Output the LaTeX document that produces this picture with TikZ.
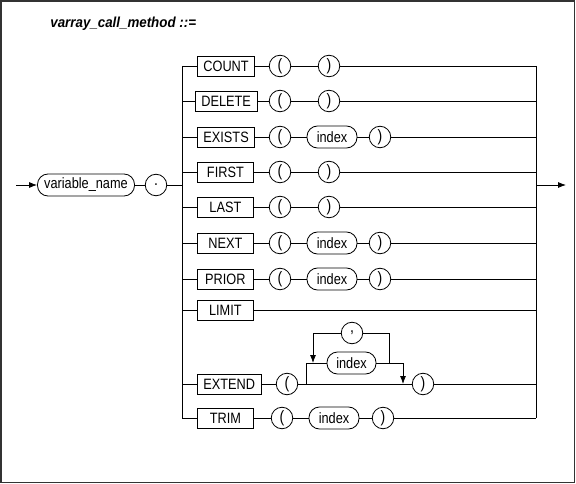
\documentclass[tikz,border=0pt]{standalone}
\usepackage{fontspec}
\setmainfont{Liberation Sans}
\newfontfamily\kwfont[FakeStretch=0.85]{Liberation Sans}
\newfontfamily\ttlfont[FakeStretch=0.92]{Liberation Sans}
\usetikzlibrary{arrows.meta}
\begin{document}
\begin{tikzpicture}[x=1pt,y=-1pt,
  font=\kwfont\fontsize{15}{17}\selectfont,
  line width=0.8pt,
  kw/.style={draw, rectangle, minimum width=56pt, minimum height=20pt, inner xsep=6pt, inner ysep=0pt, anchor=west},
  term/.style={draw, circle, minimum size=21.5pt, inner sep=0pt, font=\kwfont\fontsize{16.5}{18}\selectfont},
  ntm/.style={draw, rounded corners=10.5pt, minimum height=22pt, minimum width=50pt, inner xsep=5pt, inner ysep=0pt},
  arr/.style={-{Latex[length=8pt,width=6pt]}},
  frame/.style={draw=black!80, line width=1.5pt}
]
\useasboundingbox (0,0) rectangle (576,484);
\path[frame] (1,1) rectangle (574.5,482.5);

\node[anchor=base west, inner sep=0pt, font=\ttlfont\fontsize{14.5}{16}\selectfont\bfseries\itshape] (title) at (50,28) {varray\_call\_method ::=};

% entry
\coordinate (in) at (16,185);
\node[ntm, minimum width=97pt] (vn) at (86,185) {variable\_name};
\node[term] (dot) at (156,185) {.};
\coordinate (lb) at (182,185);
\draw[arr] (in) -- (vn);
\draw (vn) -- (dot) -- (lb);

% buses
\coordinate (lbt) at (182,66);
\coordinate (lbb) at (182,418);
\coordinate (rbt) at (536,66);
\coordinate (rbb) at (536,418);
\draw (lbt) -- (lbb);
\draw (rbt) -- (rbb);
\coordinate (rb) at (536,185);
\coordinate (out) at (566,185);
\draw[arr] (rb) -- (out);

% rows without argument
\foreach \n/\t/\y/\x in {count/COUNT/66/197, delete/DELETE/101/195, first/FIRST/172/197, last/LAST/207/197} {
  \node[kw] (\n) at (\x,\y) {\t};
  \node[term] (\n l) at (280,\y) {(};
  \node[term] (\n r) at (329,\y) {)};
  \coordinate (\n a) at (182,\y);
  \coordinate (\n b) at (536,\y);
  \draw (\n a) -- (\n) -- (\n l) -- (\n r) -- (\n b);
}

% rows with index argument
\foreach \n/\t/\y/\p/\i/\q in {exists/EXISTS/137/280/332/380, next/NEXT/243/280/332/380, prior/PRIOR/279/280/332/380, trim/TRIM/418/282/334/383} {
  \node[kw] (\n) at (197,\y) {\t};
  \node[term] (\n l) at (\p,\y) {(};
  \node[ntm] (\n i) at (\i,\y) {index};
  \node[term] (\n r) at (\q,\y) {)};
  \coordinate (\n a) at (182,\y);
  \coordinate (\n b) at (536,\y);
  \draw (\n a) -- (\n) -- (\n l) -- (\n i) -- (\n r) -- (\n b);
}

% LIMIT
\node[kw] (limit) at (197,310) {LIMIT};
\coordinate (limita) at (182,310);
\coordinate (limitb) at (536,310);
\draw (limita) -- (limit) -- (limitb);

% EXTEND
\node[kw] (ext) at (197,384) {EXTEND};
\node[term] (extl) at (287,384) {(};
\node[term] (extr) at (423,384) {)};
\coordinate (exta) at (182,384);
\coordinate (extb) at (536,384);
\draw (exta) -- (ext) -- (extl) -- (extr) -- (extb);
\node[ntm, minimum width=49pt] (xi) at (351.5,363) {index};
\node[term] (xcm) at (352,333) {,};
\coordinate (xa) at (306,384);
\coordinate (xb) at (306,363);
\coordinate (xc) at (403,363);
\coordinate (xd) at (403,384);
\coordinate (xe) at (389,363);
\coordinate (xf) at (389,333);
\coordinate (xg) at (313,333);
\coordinate (xh) at (313,363);
\draw (xa) -- (xb) -- (xi);
\draw (xi) -- (xc);
\draw[arr] (xc) -- (xd);
\draw (xe) -- (xf) -- (xcm);
\draw[arr] (xcm) -- (xg) -- (xh);
\end{tikzpicture}
\end{document}
